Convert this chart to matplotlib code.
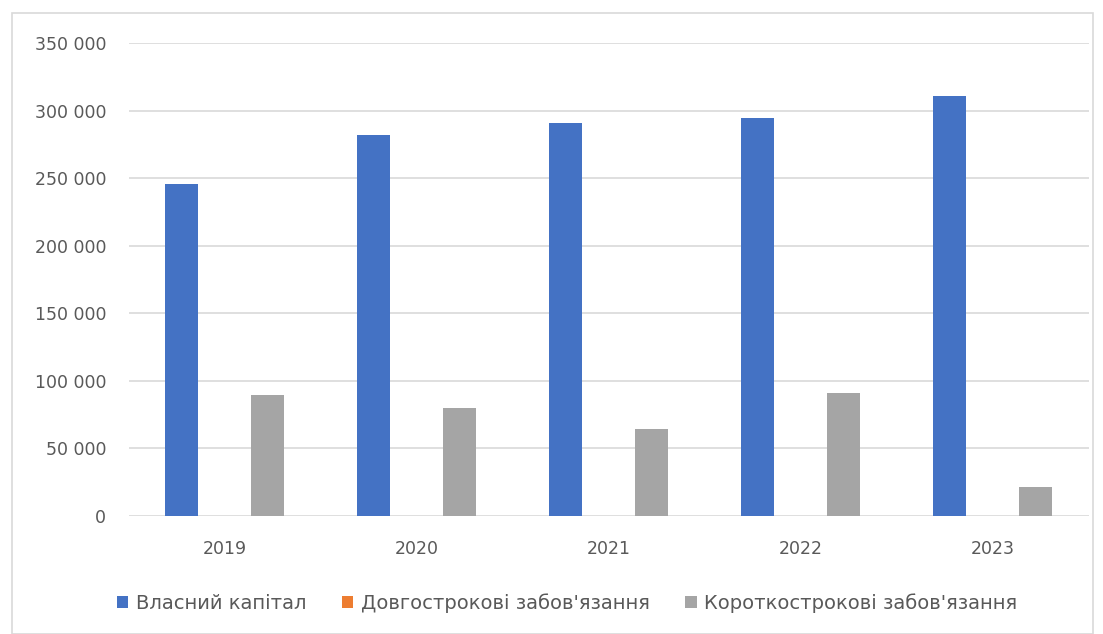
import numpy as np
import matplotlib.pyplot as plt
from matplotlib.patches import Rectangle

# Balance sheet structure, UAH thousand
years = ["2019", "2020", "2021", "2022", "2023"]
equity = [245500, 282000, 291000, 294500, 310500]
long_term = [0, 0, 0, 0, 0]
short_term = [89500, 80000, 64500, 91000, 21500]

series_names = ["Власний капітал", "Довгострокові забов'язання", "Короткострокові забов'язання"]
colors = ["#4472c4", "#ed7d31", "#a5a5a5"]
yticks = [0, 50000, 100000, 150000, 200000, 250000, 300000, 350000]

plt.rcParams['font.family'] = ['DejaVu Sans']
text_col = "#595959"

fig = plt.figure(figsize=(11.03, 6.34), dpi=100)
ax = fig.add_axes([128.5 / 1103, 1 - 516 / 634, (1088.5 - 128.5) / 1103, (516 - 43) / 634])

x = np.arange(len(years))
w = 0.172
off = 0.225
for i, (vals, name, c) in enumerate(zip([equity, long_term, short_term], series_names, colors)):
    ax.bar(x + (i - 1) * off, vals, width=w, color=c, label=name, zorder=3)

ax.set_xlim(-0.5, len(years) - 0.5)
ax.set_ylim(0, 350000)
ax.set_yticks(yticks)
ax.set_yticklabels([f"{v:,}".replace(",", " ") for v in yticks])
ax.set_xticks(x)
ax.set_xticklabels(years)
ax.grid(axis="y", color="#d9d9d9", linewidth=1.2, zorder=0)
for s in ax.spines.values():
    s.set_visible(False)
ax.tick_params(length=0, labelsize=12.5, colors=text_col)
ax.tick_params(axis="y", pad=16)
ax.tick_params(axis="x", pad=17)

leg = fig.legend(loc="center", bbox_to_anchor=(567 / 1103, 1 - 603 / 634), ncol=3, frameon=False,
                 fontsize=14, handlelength=0.6, handleheight=0.6, handletextpad=0.4,
                 columnspacing=1.8, labelcolor=text_col)

# chart frame
fig.patches.append(Rectangle((12 / 1103, 0.0), (1093 - 12) / 1103, 1 - 13 / 634,
                             transform=fig.transFigure, fill=False, edgecolor="#d9d9d9", linewidth=1.2))

fig.savefig("out.png", dpi=100)
